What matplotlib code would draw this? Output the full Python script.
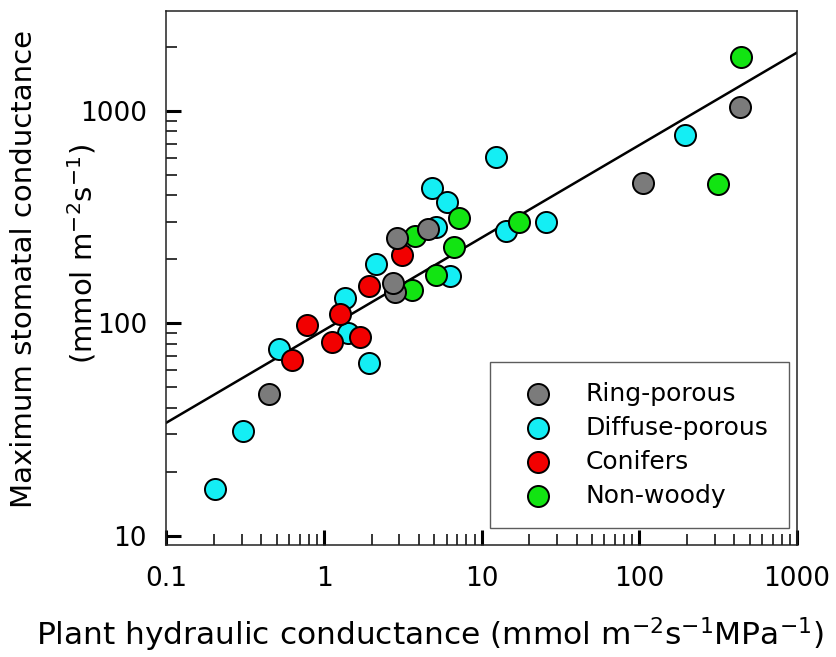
import numpy as np
import matplotlib
matplotlib.use("Agg")
import matplotlib.pyplot as plt

plt.rcParams['font.family'] = ['DejaVu Sans']
plt.rcParams['mathtext.fontset'] = 'dejavusans'
plt.rcParams['xtick.direction'] = 'in'
plt.rcParams['ytick.direction'] = 'in'

# plant hydraulic conductance (x) and max stomatal conductance (y)
ring_x = [0.45, 2.88, 4.57, 2.81, 2.74, 105, 433]
ring_y = [46.4, 253, 277, 141, 154, 458, 1043]

diffuse_x = [0.203, 0.304, 0.519, 1.36, 1.42, 1.93, 2.13, 5.16, 4.81, 6.04,
             6.28, 12.4, 14.2, 25.4, 194]
diffuse_y = [16.5, 31.1, 75.5, 131, 90.4, 65.3, 190, 283, 432, 374,
             166, 605, 273, 298, 771]

conifer_x = [0.622, 0.774, 1.116, 1.26, 1.69, 1.93, 3.10]
conifer_y = [67.2, 98.2, 81.8, 111, 85.9, 149, 210]

nonwoody_x = [3.77, 7.19, 6.69, 5.11, 3.59, 17.3, 440, 315]
nonwoody_y = [256, 312, 228, 169, 144, 301, 1787, 451]

# power-law fit y = a * x^b
fit_a = 92.8
fit_b = 0.4355

groups = [
    ("Ring-porous", ring_x, ring_y, "#7b7b7b"),
    ("Diffuse-porous", diffuse_x, diffuse_y, "#14eef4"),
    ("Conifers", conifer_x, conifer_y, "#f20000"),
    ("Non-woody", nonwoody_x, nonwoody_y, "#12e412"),
]
zorders = {"Ring-porous": 6, "Diffuse-porous": 3, "Conifers": 5, "Non-woody": 4}

fig = plt.figure(figsize=(8.37, 6.57), dpi=100)
ax = fig.add_axes([0.1989, 0.1705, 0.7533, 0.8128])

xl = np.logspace(-1, 3, 50)
ax.plot(xl, fit_a * xl ** fit_b, color="black", lw=1.8, zorder=2)

handles = []
for name, gx, gy, col in groups:
    h = ax.scatter(gx, gy, s=230, c=col, edgecolors="black", linewidths=1.4,
                   zorder=zorders[name], label=name)
    handles.append(h)

ax.set_xscale("log")
ax.set_yscale("log")
ax.set_xlim(0.1, 1000)
ax.set_ylim(9.04, 2950)
ax.set_xticks([0.1, 1, 10, 100, 1000])
ax.set_xticklabels(["0.1", "1", "10", "100", "1000"])
ax.set_yticks([10, 100, 1000])
ax.set_yticklabels(["10", "100", "1000"])

ax.tick_params(which="major", direction="in", length=10.8, width=2.2,
               labelsize=19, top=False, right=False)
ax.tick_params(which="minor", direction="in", length=7.9, width=1.1,
               top=False, right=False)
ax.tick_params(axis="y", which="major", direction="in", pad=14)
ax.tick_params(axis="x", which="major", direction="in", pad=15)
for sp in ax.spines.values():
    sp.set_linewidth(1.1)
    sp.set_color("#222222")

leg = ax.legend(handles=handles, loc="lower right", bbox_to_anchor=(0.987, 0.032),
                fontsize=18, frameon=True, fancybox=False, borderpad=0.8,
                labelspacing=0.4, handlelength=2.24, handletextpad=0.8,
                borderaxespad=0, scatterpoints=1)
leg.get_frame().set_edgecolor("#333333")
leg.get_frame().set_linewidth(1.0)

fig.text(0.0287, 0.5906, "Maximum stomatal conductance", rotation=90,
         ha="center", va="center", fontsize=21)
fig.text(0.098, 0.613, r"(mmol m$^{-2}$s$^{-1}$)", rotation=90,
         ha="center", va="center", fontsize=21)
fig.text(0.514, 0.0183, r"Plant hydraulic conductance (mmol m$^{-2}$s$^{-1}$MPa$^{-1}$)",
         ha="center", va="baseline", fontsize=22.5)

fig.savefig("out.png", dpi=100)
